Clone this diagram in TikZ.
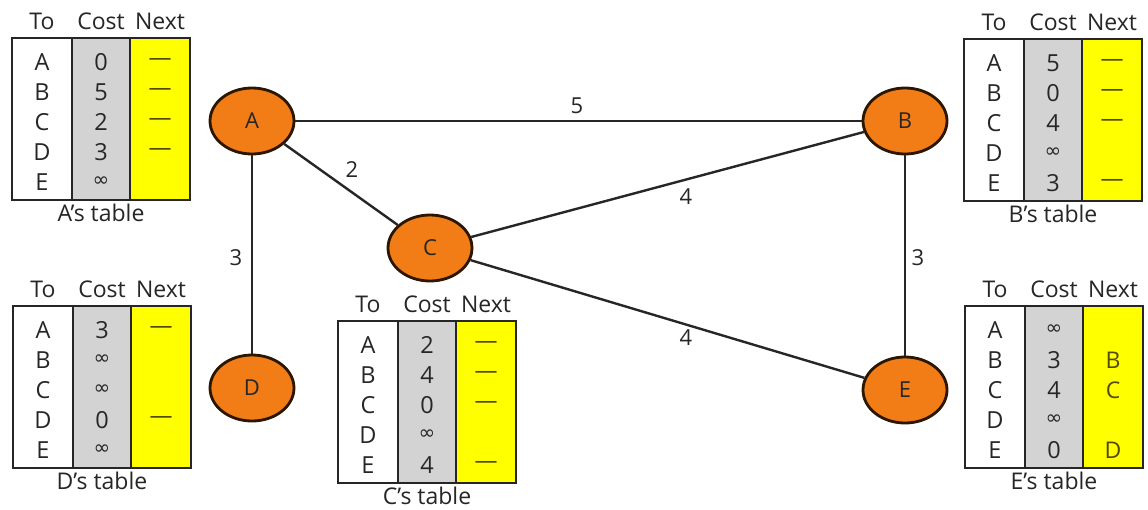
\documentclass[tikz,border=0pt]{standalone}
\usepackage{fontspec}
\setmainfont{Open Sans}
\newfontfamily\dejavu{DejaVu Sans}
\usetikzlibrary{shapes.geometric}
\definecolor{nodeorange}{HTML}{F27D17}
\definecolor{nodeborder}{HTML}{2B1600}
\definecolor{cellgray}{HTML}{D3D3D3}
\definecolor{cellyellow}{HTML}{FFFF00}
\definecolor{inkgray}{HTML}{262626}
\definecolor{olive}{HTML}{4F4B00}
\newcommand\infsym{{\dejavu\fontsize{20}{20}\selectfont ∞}}
\tikzset{
  vertex/.style={ellipse, draw=nodeborder, line width=2.8pt, fill=nodeorange,
    minimum width=84pt, minimum height=66pt, inner sep=0pt,
    font=\fontsize{22}{22}\selectfont, text=inkgray},
  edge/.style={draw=inkgray, line width=2.4pt},
  wlabel/.style={font=\fontsize{22}{22}\selectfont, text=inkgray, inner sep=1pt},
  tline/.style={draw=inkgray, line width=2pt},
  ttext/.style={font=\fontsize{23.5}{23.5}\selectfont, text=inkgray, inner sep=0pt, anchor=center},
  thead/.style={font=\fontsize{23}{23}\selectfont, text=inkgray, inner sep=0pt, anchor=center},
  tnext/.style={font=\fontsize{23}{23}\selectfont, text=olive, inner sep=0pt, anchor=center}
}
% #1 name, #2 left x, #3 top y, #4 costs, #5 next entries (row/text), #6 caption
\newcommand\routetable[6]{%
  \begin{scope}[shift={(#2,#3)}]
    \fill[white] (0,0) rectangle (60,162);
    \fill[cellgray] (60,0) rectangle (118,162);
    \fill[cellyellow] (118,0) rectangle (178,162);
    \draw[tline] (0,0) rectangle (178,162);
    \draw[tline] (60,0) -- (60,162);
    \draw[tline] (118,0) -- (118,162);
    \node[thead] (#1-to) at (30,-17) {To};
    \node[thead] (#1-cost) at (89,-17) {Cost};
    \node[thead] (#1-next) at (148,-17) {Next};
    \foreach \d [count=\i from 0] in {A,B,C,D,E}
      \node[ttext] (#1-d\i) at (30,24+30*\i) {\d};
    \foreach \c [count=\i from 0] in {#4}
      \node[ttext] (#1-c\i) at (89,24+30*\i) {\c};
    \foreach \r/\t in {#5}
      \node[tnext] (#1-n\r) at (148,24+30*\r) {\t};
    \node[thead] (#1-cap) at (89,175) {#6};
  \end{scope}%
}
\begin{document}
\begin{tikzpicture}[x=1pt,y=-1pt]
\useasboundingbox (0,0) rectangle (1148,509);
\fill[white] (0,0) rectangle (1148,509);

\node[vertex] (A) at (252,121) {A};
\node[vertex] (B) at (905,121) {B};
\node[vertex] (C) at (430,248) {C};
\node[vertex] (D) at (252,388) {D};
\node[vertex] (E) at (905,390) {E};

\draw[edge] (A) -- (B);
\draw[edge] (A) -- (C);
\draw[edge] (A) -- (D);
\draw[edge] (C) -- (B);
\draw[edge] (C) -- (E);
\draw[edge] (B) -- (E);

\node[wlabel] (w5) at (577,106) {5};
\node[wlabel] (w2) at (352,170) {2};
\node[wlabel] (w4a) at (686,197) {4};
\node[wlabel] (w3a) at (236,258) {3};
\node[wlabel] (w3b) at (918,258) {3};
\node[wlabel] (w4b) at (686,338) {4};

\routetable{ta}{12}{38}{0,5,2,3,\infsym}{0/—,1/—,2/—,3/—}{A’s table}
\routetable{tb}{964}{39}{5,0,4,\infsym,3}{0/—,1/—,2/—,4/—}{B’s table}
\routetable{td}{13}{306}{3,\infsym,\infsym,0,\infsym}{0/—,3/—}{D’s table}
\routetable{tc}{338}{321}{2,4,0,\infsym,4}{0/—,1/—,2/—,4/—}{C’s table}
\routetable{te}{965}{306}{\infsym,3,4,\infsym,0}{1/B,2/C,4/D}{E’s table}
\end{tikzpicture}
\end{document}
